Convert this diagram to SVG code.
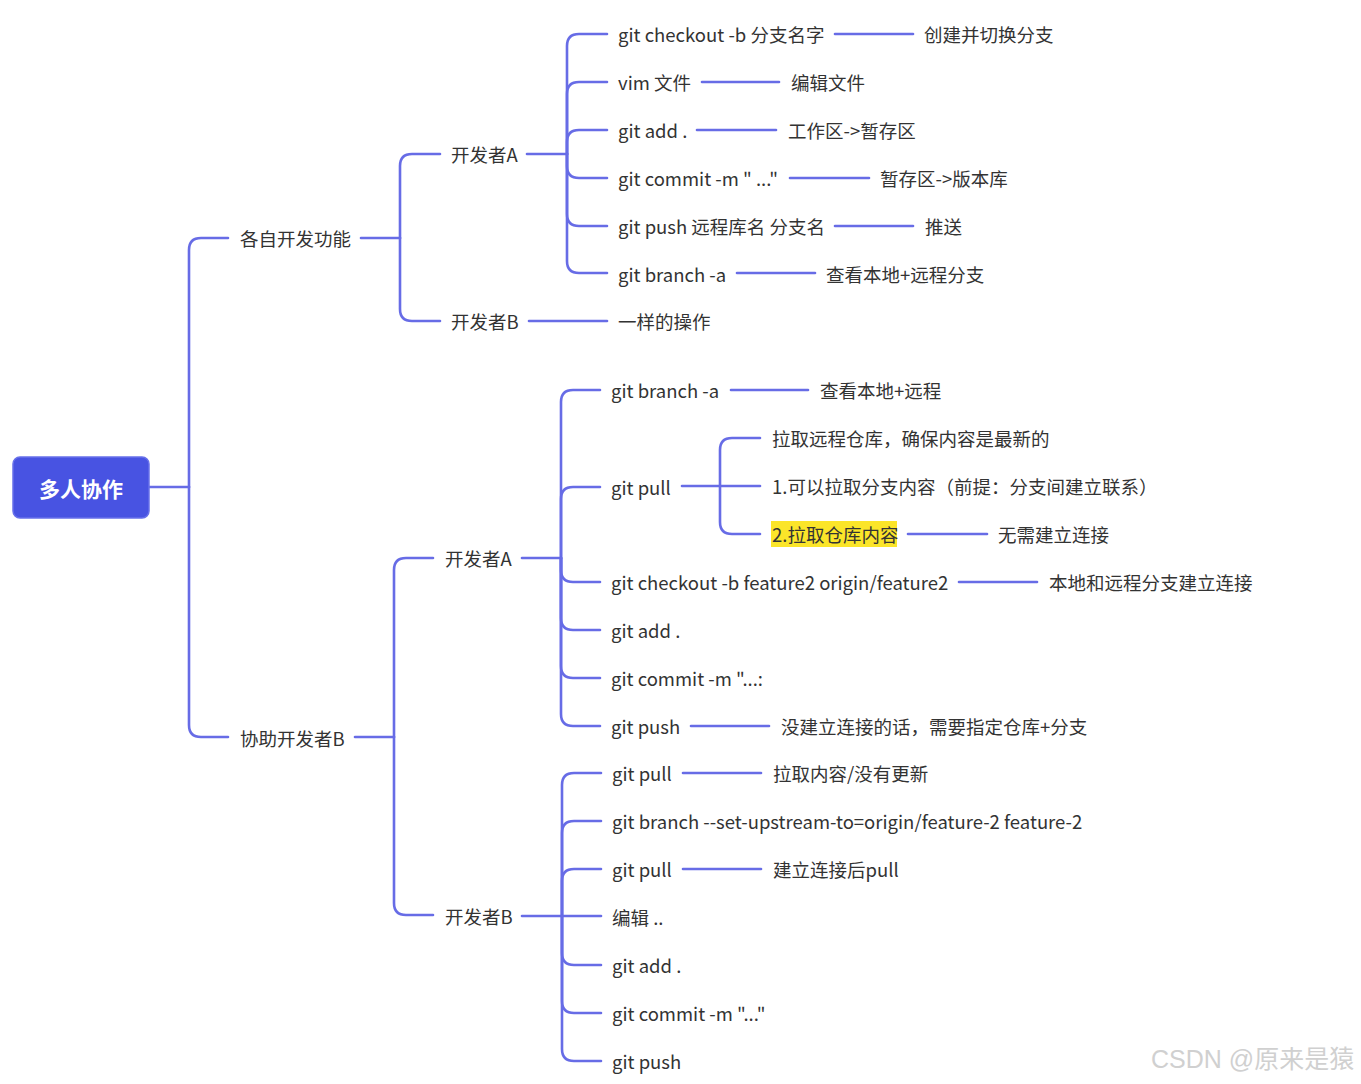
<svg xmlns="http://www.w3.org/2000/svg" width="1361" height="1084" viewBox="0 0 1361 1084">
<style>
.c{fill:none;stroke:#676ce6;stroke-width:2.6;stroke-linecap:round;stroke-linejoin:round}
.t{font-family:"Noto Sans CJK SC","Noto Sans",sans-serif;font-size:18.5px;fill:#333;dominant-baseline:central}
.r{font-family:"Noto Sans CJK SC","Noto Sans",sans-serif;font-size:21px;font-weight:bold;fill:#fff;dominant-baseline:central;text-anchor:middle}
.w{font-family:"Liberation Sans","Noto Sans CJK SC",sans-serif;font-size:25px;fill:#d0d0d0;dominant-baseline:central}
</style>
<rect width="1361" height="1084" fill="#fff"/>
<g id="connectors">
<path class="c" d="M149 487H189"/>
<path class="c" d="M189 487V250Q189 238 201 238H228"/>
<path class="c" d="M189 487V725Q189 737 201 737H228"/>
<path class="c" d="M361 238H400"/>
<path class="c" d="M400 238V166Q400 154 412 154H440"/>
<path class="c" d="M400 238V309Q400 321 412 321H440"/>
<path class="c" d="M527 154H567"/>
<path class="c" d="M567 154V46Q567 34 579 34H607"/>
<path class="c" d="M567 154V94Q567 82 579 82H607"/>
<path class="c" d="M567 154V142Q567 130 579 130H607"/>
<path class="c" d="M567 154V166Q567 178 579 178H607"/>
<path class="c" d="M567 154V214Q567 226 579 226H607"/>
<path class="c" d="M567 154V261Q567 273 579 273H607"/>
<path class="c" d="M835 34H913"/>
<path class="c" d="M702 82H779"/>
<path class="c" d="M697 130H776"/>
<path class="c" d="M790 178H869"/>
<path class="c" d="M835 226H913"/>
<path class="c" d="M737 273H815"/>
<path class="c" d="M529 321H607"/>
<path class="c" d="M355 737H394"/>
<path class="c" d="M394 737V570Q394 558 406 558H433"/>
<path class="c" d="M394 737V903Q394 915 406 915H433"/>
<path class="c" d="M522 558H561"/>
<path class="c" d="M561 558V402Q561 390 573 390H600"/>
<path class="c" d="M561 558V499Q561 487 573 487H600"/>
<path class="c" d="M561 558V570Q561 582 573 582H600"/>
<path class="c" d="M561 558V618Q561 630 573 630H600"/>
<path class="c" d="M561 558V666Q561 678 573 678H600"/>
<path class="c" d="M561 558V714Q561 726 573 726H600"/>
<path class="c" d="M731 390H808"/>
<path class="c" d="M682 486H720"/>
<path class="c" d="M720 486V450Q720 438 732 438H760"/>
<path class="c" d="M720 486H760"/>
<path class="c" d="M720 486V522Q720 534 732 534H760"/>
<path class="c" d="M908 534H987"/>
<path class="c" d="M959 582H1037"/>
<path class="c" d="M691 726H769"/>
<path class="c" d="M522 916H562"/>
<path class="c" d="M562 916V785Q562 773 574 773H601"/>
<path class="c" d="M562 916V833Q562 821 574 821H601"/>
<path class="c" d="M562 916V881Q562 869 574 869H601"/>
<path class="c" d="M562 916H601"/>
<path class="c" d="M562 916V953Q562 965 574 965H601"/>
<path class="c" d="M562 916V1001Q562 1013 574 1013H601"/>
<path class="c" d="M562 916V1049Q562 1061 574 1061H601"/>
<path class="c" d="M683 773H761"/>
<path class="c" d="M683 869H761"/>
</g>
<g id="root"><rect x="13" y="457" width="136" height="61" rx="7" fill="#4853e2" stroke="#6770ea" stroke-width="1.5"/><text class="r" x="81" y="488">多人协作</text></g>
<g id="n1"><text class="t" x="240" y="238">各自开发功能</text></g>
<g id="n1a"><text class="t" x="451" y="154">开发者A</text></g>
<g id="n1a1"><text class="t" x="618" y="34">git checkout -b 分支名字</text></g>
<g id="n1a1l"><text class="t" x="924" y="34">创建并切换分支</text></g>
<g id="n1a2"><text class="t" x="618" y="82">vim 文件</text></g>
<g id="n1a2l"><text class="t" x="791" y="82">编辑文件</text></g>
<g id="n1a3"><text class="t" x="618" y="130">git add .</text></g>
<g id="n1a3l"><text class="t" x="788" y="130">工作区-&gt;暂存区</text></g>
<g id="n1a4"><text class="t" x="618" y="178">git commit -m " ..."</text></g>
<g id="n1a4l"><text class="t" x="880" y="178">暂存区-&gt;版本库</text></g>
<g id="n1a5"><text class="t" x="618" y="226">git push 远程库名 分支名</text></g>
<g id="n1a5l"><text class="t" x="925" y="226">推送</text></g>
<g id="n1a6"><text class="t" x="618" y="274">git branch -a</text></g>
<g id="n1a6l"><text class="t" x="826" y="274">查看本地+远程分支</text></g>
<g id="n1b"><text class="t" x="451" y="321">开发者B</text></g>
<g id="n1b1"><text class="t" x="618" y="321">一样的操作</text></g>
<g id="n2"><text class="t" x="240" y="738">协助开发者B</text></g>
<g id="n2a"><text class="t" x="445" y="558">开发者A</text></g>
<g id="n2a1"><text class="t" x="611" y="390">git branch -a</text></g>
<g id="n2a1l"><text class="t" x="820" y="390">查看本地+远程</text></g>
<g id="n2a2"><text class="t" x="611" y="487">git pull</text></g>
<g id="n2a2a"><text class="t" x="772" y="438">拉取远程仓库，确保内容是最新的</text></g>
<g id="n2a2b"><text class="t" x="772" y="486">1.可以拉取分支内容（前提：分支间建立联系）</text></g>
<g id="n2a2c"><rect x="771" y="521" width="126" height="26" fill="#fbe529"/><text class="t" x="772" y="534">2.拉取仓库内容</text></g>
<g id="n2a2cl"><text class="t" x="998" y="534">无需建立连接</text></g>
<g id="n2a3"><text class="t" x="611" y="582">git checkout -b feature2 origin/feature2</text></g>
<g id="n2a3l"><text class="t" x="1049" y="582">本地和远程分支建立连接</text></g>
<g id="n2a4"><text class="t" x="611" y="630">git add .</text></g>
<g id="n2a5"><text class="t" x="611" y="678">git commit -m "...:</text></g>
<g id="n2a6"><text class="t" x="611" y="726">git push</text></g>
<g id="n2a6l"><text class="t" x="781" y="726">没建立连接的话，需要指定仓库+分支</text></g>
<g id="n2b"><text class="t" x="445" y="916">开发者B</text></g>
<g id="n2b1"><text class="t" x="612" y="773">git pull</text></g>
<g id="n2b1l"><text class="t" x="773" y="773">拉取内容/没有更新</text></g>
<g id="n2b2"><text class="t" x="612" y="821">git branch --set-upstream-to=origin/feature-2 feature-2</text></g>
<g id="n2b3"><text class="t" x="612" y="869">git pull</text></g>
<g id="n2b3l"><text class="t" x="773" y="869">建立连接后pull</text></g>
<g id="n2b4"><text class="t" x="612" y="917">编辑 ..</text></g>
<g id="n2b5"><text class="t" x="612" y="965">git add .</text></g>
<g id="n2b6"><text class="t" x="612" y="1013">git commit -m "..."</text></g>
<g id="n2b7"><text class="t" x="612" y="1061">git push</text></g>
<text class="w" x="1151" y="1059">CSDN @原来是猿</text>
</svg>
